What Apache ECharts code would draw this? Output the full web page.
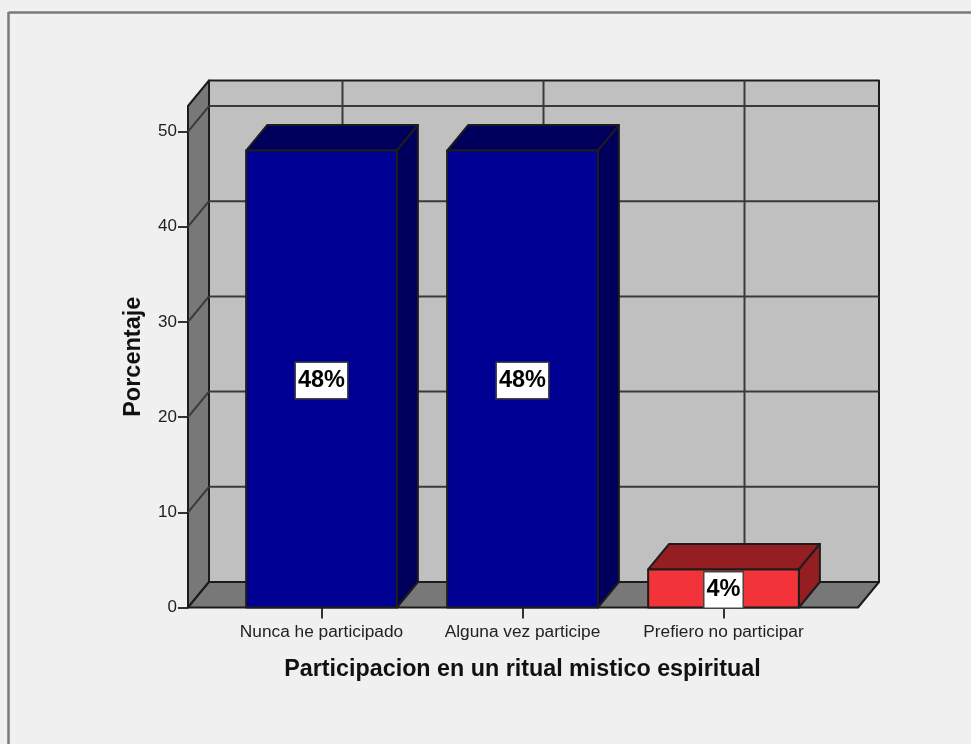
<!DOCTYPE html>
<html>
<head>
<meta charset="utf-8">
<style>html,body{margin:0;padding:0;background:#f0f0f0}#c{width:971px;height:744px}</style>
<script src="https://cdn.jsdelivr.net/npm/echarts@6/dist/echarts.min.js"></script>
</head>
<body>
<div id="c"></div>
<script>
const categories = ['Nunca he participado', 'Alguna vez participe', 'Prefiero no participar'];
const values = [48, 48, 4];
const valueLabels = ['48%', '48%', '4%'];
const yTicks = [0, 10, 20, 30, 40, 50];
const xTitle = 'Participacion en un ritual mistico espiritual';
const yTitle = 'Porcentaje';
const frontColors = ['#000093', '#000093', '#f23339'];
const darkColors = ['#00005c', '#00005c', '#941e22'];

const DX = 21, DY = -25.5, BAR_RATIO = 0.75;
const PAD_L = 133.5, PAD_R = 134.5, Y_MAX = 52.68;
const EDGE = '#1c1c1c', GRID = '#3a3a3a';
const poly = (pts, fill, z) => ({
  type: 'polygon', shape: { points: pts }, z2: z || 0,
  style: { fill, stroke: EDGE, lineWidth: 2, lineJoin: 'round' }
});
const line = (a, b, stroke, w) => ({
  type: 'line', shape: { x1: a[0], y1: a[1], x2: b[0], y2: b[1] },
  style: { stroke: stroke || GRID, lineWidth: w || 2 }
});

function renderWalls(params, api) {
  const first = api.coord([0, 0]), last = api.coord([categories.length - 1, 0]);
  const xl = first[0] - PAD_L, xr = last[0] + PAD_R;
  const y0 = first[1], yt = api.coord([0, Y_MAX])[1];
  const kids = [
    poly([[xl + DX, yt + DY], [xr + DX, yt + DY], [xr + DX, y0 + DY], [xl + DX, y0 + DY]], '#c0c0c0'),
    poly([[xl, yt], [xl + DX, yt + DY], [xl + DX, y0 + DY], [xl, y0]], '#787878'),
    poly([[xl, y0], [xl + DX, y0 + DY], [xr + DX, y0 + DY], [xr, y0]], '#787878')
  ];
  yTicks.forEach(t => {
    if (t === 0) return;
    const y = api.coord([0, t])[1];
    kids.push(line([xl, y], [xl + DX, y + DY]));
    kids.push(line([xl + DX, y + DY], [xr + DX, y + DY]));
  });
  categories.forEach((c, i) => {
    const x = api.coord([i, 0])[0] + DX;
    kids.push(line([x, yt + DY], [x, y0 + DY]));
  });
  return { type: 'group', children: kids };
}

function renderBars(params, api) {
  const i = api.value(0), v = api.value(1);
  const base = api.coord([i, 0]), top = api.coord([i, v]);
  const w = api.size([1, 0])[0] * BAR_RATIO;
  const l = base[0] - w / 2, r = base[0] + w / 2, b = base[1], t = top[1];
  return {
    type: 'group',
    children: [
      poly([[l, t], [l + DX, t + DY], [r + DX, t + DY], [r, t]], darkColors[i]),
      poly([[r, t], [r + DX, t + DY], [r + DX, b + DY], [r, b]], darkColors[i]),
      poly([[l, t], [r, t], [r, b], [l, b]], frontColors[i]),
      {
        type: 'text', z2: 10,
        style: {
          x: base[0], y: (t + b) / 2 + 1.5, text: valueLabels[i],
          align: 'center', verticalAlign: 'middle',
          font: 'bold 23.5px "Liberation Sans", Arial, sans-serif',
          fill: '#000', backgroundColor: '#fff', borderColor: '#444', borderWidth: 1.5,
          padding: [6, 2, 5, 2]
        }
      }
    ]
  };
}

const chart = echarts.init(document.getElementById('c'), null, { renderer: 'canvas' });
chart.setOption({
  animation: false,
  backgroundColor: '#f0f0f0',
  textStyle: { fontFamily: '"Liberation Sans", Arial, sans-serif' },
  grid: { left: 221, right: 147, top: 106, height: 501.5 },
  xAxis: {
    type: 'category', data: categories,
    name: xTitle, nameLocation: 'middle', nameGap: 51,
    nameTextStyle: { fontWeight: 'bold', fontSize: 23.3, color: '#111' },
    axisLine: { show: false },
    axisTick: { show: true, alignWithLabel: true, length: 11, lineStyle: { color: '#333', width: 2 } },
    axisLabel: { interval: 0, margin: 16, fontSize: 17.3, color: '#222', hideOverlap: false },
    splitLine: { show: false }
  },
  yAxis: {
    type: 'value', min: 0, max: Y_MAX, offset: 33,
    name: yTitle, nameLocation: 'middle', nameGap: 42, nameRotate: 90,
    nameTextStyle: { fontWeight: 'bold', fontSize: 23.5, color: '#111' },
    axisLine: { show: false },
    axisTick: { show: true, length: 10, customValues: yTicks, lineStyle: { color: '#333', width: 2 } },
    axisLabel: { customValues: yTicks, margin: 11, fontSize: 17, color: '#222' },
    splitLine: { show: false }
  },
  graphic: [
    { type: 'line', silent: true, z: 100, shape: { x1: 8.5, y1: 12.5, x2: 971, y2: 12.5 }, style: { stroke: '#7a7a7a', lineWidth: 2.5 } },
    { type: 'line', silent: true, z: 100, shape: { x1: 8.5, y1: 12, x2: 8.5, y2: 744 }, style: { stroke: '#7a7a7a', lineWidth: 2.5 } }
  ],
  series: [
    { type: 'custom', silent: true, z: 1, renderItem: renderWalls, data: [[0, 0]], encode: { x: 0, y: 1 } },
    { type: 'custom', silent: true, z: 2, renderItem: renderBars, data: values.map((v, i) => [i, v]), encode: { x: 0, y: 1 } }
  ]
});
</script>
</body>
</html>
